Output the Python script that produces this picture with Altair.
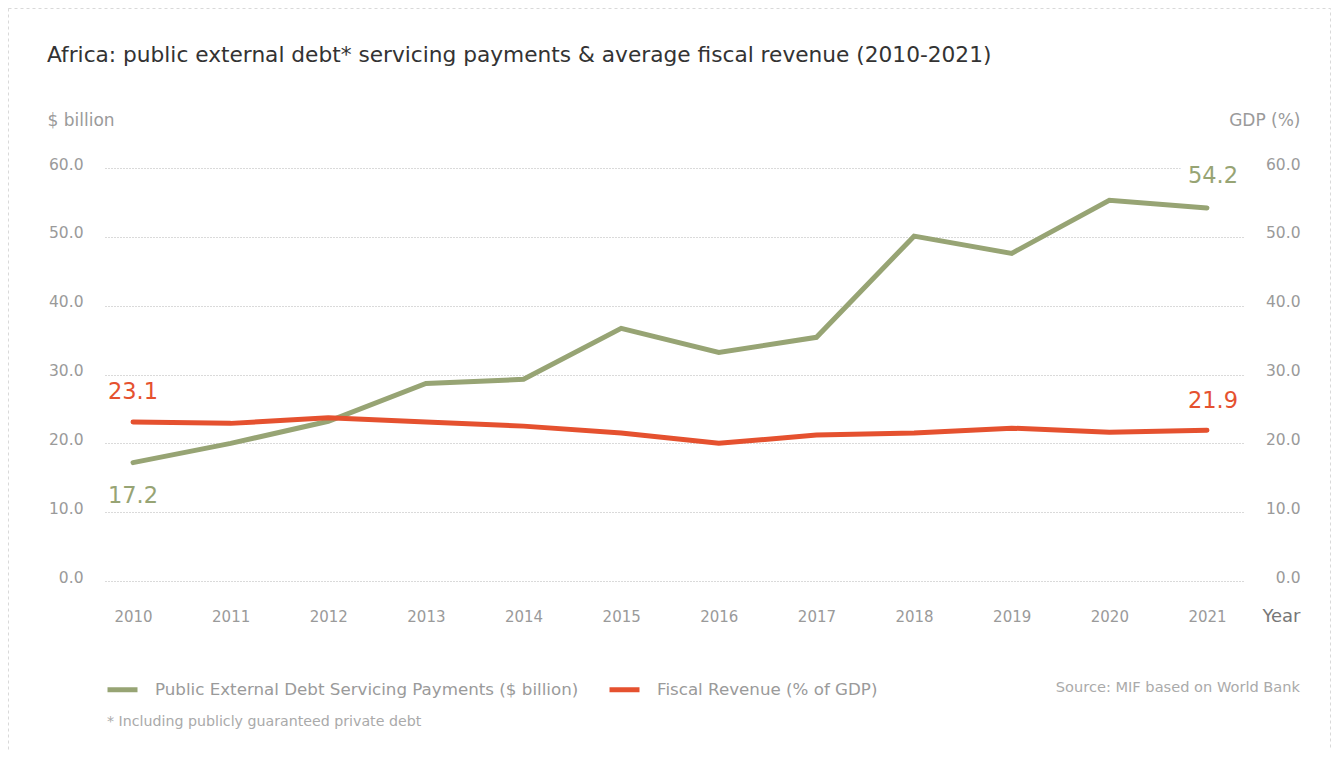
import altair as alt
import pandas as pd

years = [2010, 2011, 2012, 2013, 2014, 2015, 2016, 2017, 2018, 2019, 2020, 2021]
debt = [17.2, 20.0, 23.2, 28.7, 29.3, 36.7, 33.2, 35.4, 50.1, 47.6, 55.3, 54.2]
revenue = [23.1, 22.9, 23.7, 23.1, 22.5, 21.5, 20.0, 21.2, 21.5, 22.2, 21.6, 21.9]
series_names = ["Public External Debt Servicing Payments ($ billion)", "Fiscal Revenue (% of GDP)"]
series_colors = ["#97a474", "#e5512f"]
y_ticks = [0, 10, 20, 30, 40, 50, 60]

FONT = "DejaVu Sans"
W, H = 1138, 413
PL, PT = 97, 160
TOTAL_W, TOTAL_H = 1324, 742

df_debt = pd.DataFrame({"year": years, "value": debt, "series": series_names[0]})
df_rev = pd.DataFrame({"year": years, "value": revenue, "series": series_names[1]})

x_scale = alt.Scale(domain=[2009.713, 2021.369], nice=False, zero=False)
y_scale = alt.Scale(domain=[0, 60], nice=False)
color_scale = alt.Scale(domain=series_names, range=series_colors)

x_enc = alt.X("year:Q", scale=x_scale,
              axis=alt.Axis(values=years, format="d", title="Year", grid=False, domain=False, ticks=False,
                            labelPadding=28, labelFontSize=15, labelColor="#9a9a9a", labelFont=FONT,
                            titleFont=FONT, titleFontSize=18, titleFontWeight="normal", titleColor="#777777",
                            titleX=1195, titleY=35, titleAlign="right", titleBaseline="middle"))

color_enc = alt.Color("series:N", scale=color_scale,
                      legend=alt.Legend(title=None, orient="none", legendX=0, legendY=504, direction="horizontal",
                                        symbolType="stroke", symbolSize=900, symbolStrokeWidth=5,
                                        labelFontSize=16.7, labelColor="#9a9a9a", labelFont=FONT, labelOffset=15,
                                        columnPadding=20, labelLimit=700, padding=0))

left_axis = alt.Axis(values=y_ticks, format=".1f", orient="left", domain=False, ticks=False,
                     grid=True, gridDash=[1, 2], gridColor="#b5b5b5", gridWidth=1,
                     labelPadding=22, labelFontSize=15.5, labelColor="#9a9a9a", labelFont=FONT, labelOffset=-4,
                     title="$ billion", titleAngle=0, titleAlign="left", titleBaseline="middle",
                     titleX=-58, titleY=-48, titleFont=FONT, titleFontSize=17, titleFontWeight="normal",
                     titleColor="#9a9a9a")
right_axis = alt.Axis(values=y_ticks, format=".1f", orient="right", domain=False, ticks=False, grid=False,
                      labelPadding=57, labelAlign="right", labelFontSize=15.5, labelColor="#9a9a9a", labelFont=FONT,
                      labelOffset=-4,
                      title="GDP (%)", titleAngle=0, titleAlign="right", titleBaseline="middle",
                      titleX=57, titleY=-48, titleFont=FONT, titleFontSize=17, titleFontWeight="normal",
                      titleColor="#9a9a9a")

debt_base = alt.Chart(df_debt)
debt_line = debt_base.mark_line(strokeWidth=5, strokeCap="round", strokeJoin="miter").encode(
    x=x_enc, y=alt.Y("value:Q", scale=y_scale, axis=left_axis), color=color_enc)
debt_first = debt_base.transform_filter(alt.datum.year == years[0]).mark_text(
    fontSize=22.5, font=FONT, dy=33, color=series_colors[0]).encode(
    x="year:Q", y="value:Q", text=alt.Text("value:Q", format=".1f"))
debt_last_halo = debt_base.transform_filter(alt.datum.year == years[-1]).mark_text(
    fontSize=22.5, font=FONT, dy=-32, dx=6, fill="white", stroke="white", strokeWidth=18).encode(
    x="year:Q", y="value:Q", text=alt.Text("value:Q", format=".1f"))
debt_last = debt_base.transform_filter(alt.datum.year == years[-1]).mark_text(
    fontSize=22.5, font=FONT, dy=-32, dx=6, color=series_colors[0]).encode(
    x="year:Q", y="value:Q", text=alt.Text("value:Q", format=".1f"))
debt_layer = alt.layer(debt_last_halo, debt_line, debt_first, debt_last)

rev_base = alt.Chart(df_rev)
rev_line = rev_base.mark_line(strokeWidth=5, strokeCap="round", strokeJoin="miter").encode(
    x=x_enc, y=alt.Y("value:Q", scale=y_scale, axis=right_axis), color=color_enc)
rev_first = rev_base.transform_filter(alt.datum.year == years[0]).mark_text(
    fontSize=22.5, font=FONT, dy=-30, color=series_colors[1]).encode(
    x="year:Q", y="value:Q", text=alt.Text("value:Q", format=".1f"))
rev_last = rev_base.transform_filter(alt.datum.year == years[-1]).mark_text(
    fontSize=22.5, font=FONT, dy=-29, dx=6, color=series_colors[1]).encode(
    x="year:Q", y="value:Q", text=alt.Text("value:Q", format=".1f"))
rev_layer = alt.layer(rev_line, rev_first, rev_last)

one = pd.DataFrame({"k": [0]})
border = alt.Chart(one).mark_rect(fill=None, stroke="#d9d9d9", strokeDash=[3, 3], strokeWidth=1).encode(
    x=alt.value(-PL + 0.5), x2=alt.value(TOTAL_W - PL - 1.5), y=alt.value(-PT + 0.5), y2=alt.value(TOTAL_H - PT + 20))
title = alt.Chart(one).mark_text(
    text="Africa: public external debt* servicing payments & average fiscal revenue (2010-2021)",
    font=FONT, fontSize=21.7, color="#333333", align="left", baseline="middle").encode(
    x=alt.value(-58), y=alt.value(-113))
source = alt.Chart(one).mark_text(
    text="Source: MIF based on World Bank", font=FONT, fontSize=14.6, color="#aaaaaa",
    align="right", baseline="middle").encode(x=alt.value(1195), y=alt.value(520))
footnote = alt.Chart(one).mark_text(
    text="* Including publicly guaranteed private debt", font=FONT, fontSize=14.2, color="#aaaaaa",
    align="left", baseline="middle").encode(x=alt.value(2), y=alt.value(554))

chart = alt.layer(border, title, source, footnote, debt_layer, rev_layer).resolve_scale(
    y="independent"
).properties(
    width=W, height=H,
    background="white",
    autosize=alt.AutoSizeParams(type="none"),
    padding={"left": PL, "top": PT, "right": TOTAL_W - PL - W, "bottom": TOTAL_H - PT - H},
).configure_view(stroke=None)

chart.save("out.html", embed_options={"renderer": "svg", "actions": False})
